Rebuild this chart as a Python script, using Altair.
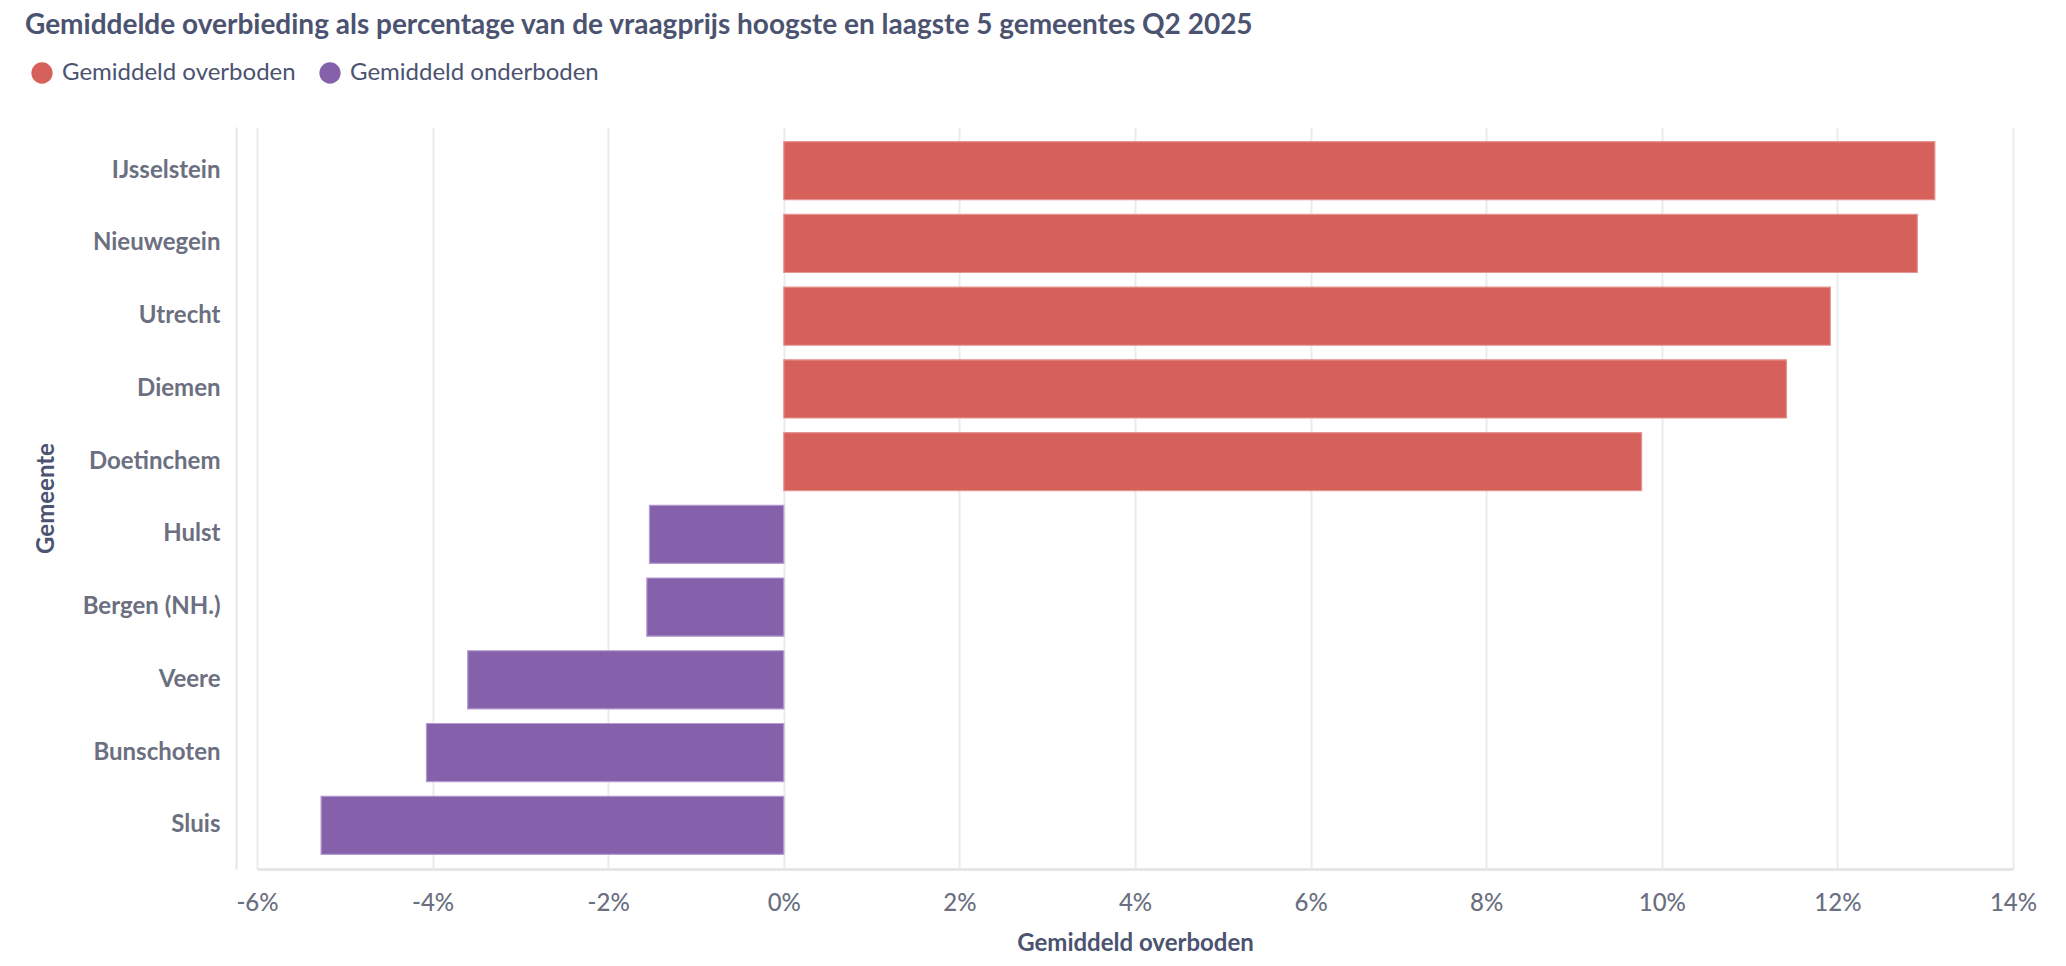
import altair as alt
import pandas as pd

gemeenten = ["IJsselstein", "Nieuwegein", "Utrecht", "Diemen", "Doetinchem",
             "Hulst", "Bergen (NH.)", "Veere", "Bunschoten", "Sluis"]
waarden_pct = [13.11, 12.91, 11.92, 11.42, 9.77, -1.53, -1.56, -3.60, -4.07, -5.27]
soort = ["Gemiddeld overboden"] * 5 + ["Gemiddeld onderboden"] * 5
legenda = ["Gemiddeld overboden", "Gemiddeld onderboden"]
kleuren = ["#d6605a", "#8661ab"]
randkleuren = ["#e59591", "#b49bd0"]
x_ticks = [-0.06, -0.04, -0.02, 0.0, 0.02, 0.04, 0.06, 0.08, 0.10, 0.12, 0.14]

df = pd.DataFrame({
    "Gemeente": gemeenten,
    "Waarde": [v / 100 for v in waarden_pct],
    "Soort": soort,
})

navy = "#4b5371"
grey = "#6b6f80"

chart = alt.Chart(df).mark_bar(strokeWidth=1.2).encode(
    y=alt.Y("Gemeente:N", sort=gemeenten,
            scale=alt.Scale(paddingInner=0.2, paddingOuter=0.2),
            axis=alt.Axis(title="Gemeente", titleFont="Lato", titleFontSize=24,
                          titleFontWeight="bold", titleColor=navy, titlePadding=24,
                          labelFont="Lato", labelFontSize=24, labelFontWeight="bold",
                          labelColor=grey, labelPadding=16, offset=21,
                          ticks=False, tickSize=0, grid=False,
                          domainColor="#e6e6e6", domainWidth=2)),
    x=alt.X("Waarde:Q",
            scale=alt.Scale(domain=[-0.06, 0.14], nice=False, zero=False),
            axis=alt.Axis(title="Gemiddeld overboden", format=".0%", values=x_ticks,
                          labelExpr="replace(datum.label, '\u2212', '-')",
                          titleFont="Lato", titleFontSize=24, titleFontWeight="bold",
                          titleColor=navy, titlePadding=16,
                          labelFont="Lato", labelFontSize=24, labelFontWeight=500,
                          labelColor=grey,
                          labelPadding=22, ticks=False, tickSize=0,
                          grid=True, gridColor="#ebebeb", gridWidth=2,
                          domainColor="#e6e6e6", domainWidth=3, labelFlush=False)),
    color=alt.Color("Soort:N",
                    scale=alt.Scale(domain=legenda, range=kleuren),
                    legend=alt.Legend(orient="none", legendX=-227, legendY=-66,
                                      direction="horizontal", title=None,
                                      symbolType="circle", symbolSize=452,
                                      symbolStrokeWidth=0, labelLimit=0,
                                      labelFont="Lato", labelFontSize=24,
                                      labelColor=navy, labelOffset=8,
                                      columnPadding=22, padding=0)),
    stroke=alt.Stroke("Soort:N", scale=alt.Scale(domain=legenda, range=randkleuren),
                      legend=None),
).properties(
    width=1756,
    height=742,
    title=alt.TitleParams(
        "Gemiddelde overbieding als percentage van de vraagprijs hoogste en laagste 5 gemeentes Q2 2025",
        anchor="start", frame="group", font="Lato", fontSize=28, fontWeight="bold",
        color=navy, dx=-232, dy=-17),
    autosize=alt.AutoSizeParams(type="none"),
    padding={"left": 249, "top": 119, "right": 45, "bottom": 89},
).configure_view(stroke=None)

chart.save("out.html", embed_options={"renderer": "svg", "actions": False})
